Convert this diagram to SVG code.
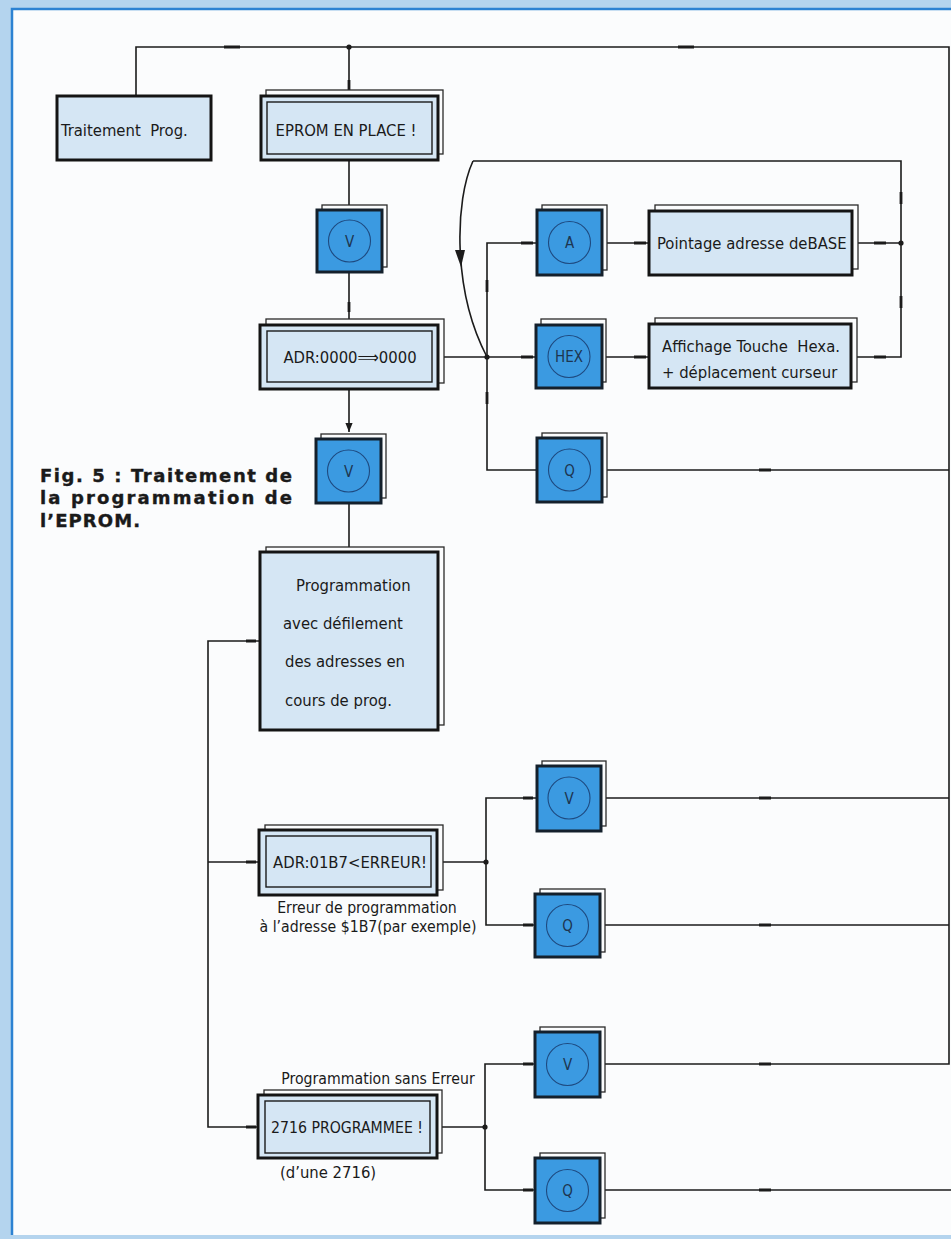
<svg xmlns="http://www.w3.org/2000/svg" width="951" height="1239" viewBox="0 0 951 1239">
<defs>
<style>
.ln{stroke:#1b1b1b;stroke-width:1.6;fill:none}
.tk{stroke:#1b1b1b;stroke-width:2.8;fill:none}
.disp{fill:#d5e6f4;stroke:#141414;stroke-width:3}
.inner{fill:none;stroke:#1a1a1a;stroke-width:1.4}
.shadow{fill:#fbfcfd;stroke:#2a2a2a;stroke-width:1.3}
.key{fill:#3b9ae1;stroke:#14202c;stroke-width:3}
.ring{fill:none;stroke:#1e4a80;stroke-width:1.1}
.t{font-family:"DejaVu Sans Condensed","DejaVu Sans",sans-serif;font-size:16.5px;fill:#1a1a1a}
.s{font-size:15.7px}
.kt{font-family:"DejaVu Sans Condensed","DejaVu Sans",sans-serif;font-size:15px;text-anchor:middle;fill:#1d3550}
.c{text-anchor:middle}
.cap{font-family:"DejaVu Sans",sans-serif;font-weight:bold;font-size:18px;fill:#1a1a1a;stroke:#1a1a1a;stroke-width:0.4}
.dot{fill:#1b1b1b}
</style>
<marker id="arr" viewBox="0 0 10 10" refX="10" refY="5" markerWidth="10" markerHeight="9" markerUnits="userSpaceOnUse" orient="auto">
<path d="M0,1 L10,5 L0,9 Z" fill="#1b1b1b"/>
</marker>
</defs>
<rect x="0" y="0" width="951" height="1239" fill="#b4d4ee"/>
<rect x="13" y="10" width="938" height="1225" fill="#fbfcfd"/>
<path d="M12,1235 V9 H951" fill="none" stroke="#2c82d2" stroke-width="2.5"/>

<g id="connectors">
<path class="ln" d="M136,96 V47 H949 V1064 H600"/>
<path class="ln" d="M349,47 V96"/>
<path class="ln" d="M349,160 V210"/>
<path class="ln" d="M349,272 V325"/>
<path class="ln" d="M349,389 V432" marker-end="url(#arr)"/>
<path class="ln" d="M349,503 V552"/>
<path class="ln" d="M473,161 H901 V357 H851"/>
<path class="ln" d="M852,243 H901"/>
<path class="ln" d="M473,161 C455,200 452,290 487,357"/>
<path d="M455,250 L465,250 L461,267 Z" fill="#1b1b1b"/>
<path class="ln" d="M438,357 H536"/>
<path class="ln" d="M537,243 H487 V470 H537"/>
<path class="ln" d="M602,243 H649"/>
<path class="ln" d="M602,357 H649"/>
<path class="ln" d="M602,470 H949"/>
<path class="ln" d="M260,641 H208 V1127 H258"/>
<path class="ln" d="M208,862 H259"/>
<path class="ln" d="M437,862 H486"/>
<path class="ln" d="M537,798 H486 V925 H535"/>
<path class="ln" d="M600,798 H949"/>
<path class="ln" d="M600,925 H949"/>
<path class="ln" d="M437,1127 H485"/>
<path class="ln" d="M535,1064 H485 V1190 H535"/>
<path class="ln" d="M600,1190 H951"/>
<circle class="dot" cx="349" cy="47" r="2.6"/>
<circle class="dot" cx="487" cy="357" r="2.6"/>
<circle class="dot" cx="901" cy="243" r="2.6"/>
<circle class="dot" cx="486" cy="862" r="2.6"/>
<circle class="dot" cx="485" cy="1127" r="2.6"/>
<path class="tk" d="M224,47 H240 M678,47 H694 M349,80 V90 M349,302 V312 M521,243 H533 M634,243 H646 M874,243 H886 M521,357 H533 M634,357 H646 M874,357 H886 M901,192 V204 M901,296 V308 M487,280 V292 M487,392 V404 M759,470 H771 M759,798 H771 M759,925 H771 M759,1064 H771 M759,1190 H771 M246,641 H256 M246,862 H256 M246,1127 H256 M523,798 H533 M523,925 H533 M523,1064 H533 M523,1190 H533"/>
</g>

<g id="n-traitement">
<rect class="disp" x="57" y="96" width="154" height="64"/>
<text class="t" x="61" y="136" xml:space="preserve">Traitement  Prog.</text>
</g>

<g id="n-eprom">
<rect class="shadow" x="266" y="90" width="177" height="64"/>
<rect class="disp" x="261" y="96" width="177" height="64"/>
<rect class="inner" x="267" y="102" width="165" height="52"/>
<text class="t c" x="346" y="136">EPROM EN PLACE !</text>
</g>

<g id="n-v1">
<rect class="shadow" x="322" y="205" width="65" height="62"/>
<rect class="key" x="317" y="210" width="65" height="62"/>
<circle class="ring" cx="349.5" cy="241" r="21"/>
<text class="kt" x="349.5" y="246.5">V</text>
</g>

<g id="n-adr">
<rect class="shadow" x="266" y="319" width="178" height="64"/>
<rect class="disp" x="260" y="325" width="178" height="64"/>
<rect class="inner" x="267" y="331" width="165" height="51"/>
<text class="t c" x="350" y="363">ADR:0000⟹0000</text>
</g>

<g id="n-v2">
<rect class="shadow" x="321" y="434" width="65" height="64"/>
<rect class="key" x="316" y="439" width="65" height="64"/>
<circle class="ring" cx="348.5" cy="471" r="21"/>
<text class="kt" x="348.5" y="476.5">V</text>
</g>

<g id="n-prog">
<rect class="shadow" x="266" y="547" width="178" height="178"/>
<rect class="disp" x="260" y="552" width="178" height="178"/>
<text class="t" x="296" y="591">Programmation</text>
<text class="t" x="283" y="629">avec défilement</text>
<text class="t" x="285" y="667">des adresses en</text>
<text class="t" x="285" y="706">cours de prog.</text>
</g>

<g id="n-a">
<rect class="shadow" x="542" y="205" width="65" height="65"/>
<rect class="key" x="537" y="210" width="65" height="65"/>
<circle class="ring" cx="569.5" cy="242.5" r="21"/>
<text class="kt" x="569.5" y="248">A</text>
</g>

<g id="n-pointage">
<rect class="shadow" x="655" y="205" width="203" height="64"/>
<rect class="disp" x="649" y="211" width="203" height="64"/>
<text class="t" x="657" y="249">Pointage adresse deBASE</text>
</g>

<g id="n-hex">
<rect class="shadow" x="541" y="319" width="65" height="63"/>
<rect class="key" x="536" y="325" width="66" height="63"/>
<circle class="ring" cx="569" cy="356.5" r="21"/>
<text class="kt" x="569" y="362">HEX</text>
</g>

<g id="n-affichage">
<rect class="shadow" x="655" y="318" width="202" height="64"/>
<rect class="disp" x="649" y="324" width="202" height="64"/>
<text class="t" x="662" y="352" xml:space="preserve">Affichage Touche  Hexa.</text>
<text class="t" x="662" y="378">+ déplacement curseur</text>
</g>

<g id="n-q1">
<rect class="shadow" x="542" y="433" width="65" height="64"/>
<rect class="key" x="537" y="438" width="65" height="64"/>
<circle class="ring" cx="569.5" cy="470" r="21"/>
<text class="kt" x="569.5" y="475.5">Q</text>
</g>

<g id="n-err">
<rect class="shadow" x="265" y="825" width="178" height="65"/>
<rect class="disp" x="259" y="830" width="178" height="65"/>
<rect class="inner" x="266" y="836" width="165" height="51"/>
<text class="t c" x="350" y="868">ADR:01B7&lt;ERREUR!</text>
<text class="t s c" x="367" y="913">Erreur de programmation</text>
<text class="t s c" x="368" y="932">à l’adresse $1B7(par exemple)</text>
</g>

<g id="n-v3">
<rect class="shadow" x="542" y="761" width="64" height="65"/>
<rect class="key" x="537" y="766" width="64" height="65"/>
<circle class="ring" cx="569" cy="798" r="21"/>
<text class="kt" x="569" y="803.5">V</text>
</g>

<g id="n-q3">
<rect class="shadow" x="540" y="889" width="65" height="63"/>
<rect class="key" x="535" y="894" width="65" height="63"/>
<circle class="ring" cx="567.5" cy="925.5" r="21"/>
<text class="kt" x="567.5" y="931">Q</text>
</g>

<g id="n-2716">
<text class="t s c" x="378" y="1084">Programmation sans Erreur</text>
<rect class="shadow" x="264" y="1090" width="178" height="63"/>
<rect class="disp" x="258" y="1095" width="179" height="63"/>
<rect class="inner" x="265" y="1101" width="165" height="52"/>
<text class="t s c" x="347" y="1133">2716 PROGRAMMEE !</text>
<text class="t" x="280" y="1178">(d’une 2716)</text>
</g>

<g id="n-v4">
<rect class="shadow" x="540" y="1027" width="65" height="65"/>
<rect class="key" x="535" y="1032" width="65" height="65"/>
<circle class="ring" cx="567.5" cy="1064.5" r="21"/>
<text class="kt" x="567.5" y="1070">V</text>
</g>

<g id="n-q4">
<rect class="shadow" x="540" y="1153" width="65" height="65"/>
<rect class="key" x="535" y="1158" width="65" height="65"/>
<circle class="ring" cx="567.5" cy="1190.5" r="21"/>
<text class="kt" x="567.5" y="1196">Q</text>
</g>

<g id="caption">
<text class="cap" x="40" y="482" textLength="252" lengthAdjust="spacing">Fig. 5 : Traitement de</text>
<text class="cap" x="40" y="504" textLength="252" lengthAdjust="spacing">la programmation de</text>
<text class="cap" x="40" y="527" textLength="100" lengthAdjust="spacing">l’EPROM.</text>
</g>
</svg>
